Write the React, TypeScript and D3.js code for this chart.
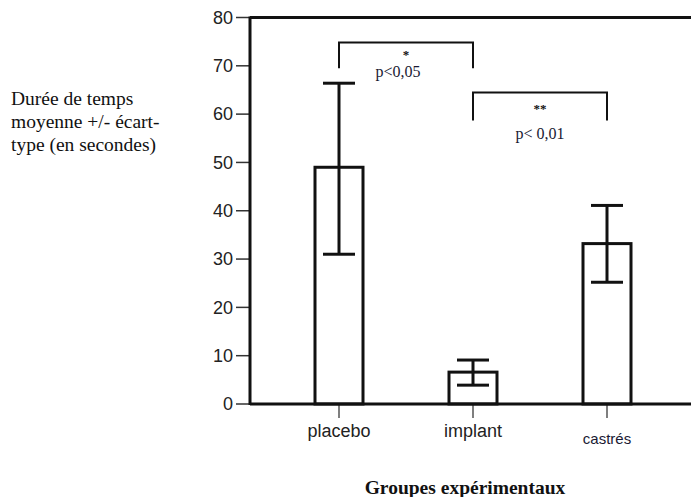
import React from "react";
import * as d3 from "d3";

// groupes et valeurs
const groupes = ["placebo", "implant", "castrés"];
const moyennes = [49, 6.6, 33.2];
const erreurHaut = [66.4, 9.1, 41.1];
const erreurBas = [31, 3.9, 25.2];
const yTicksValues = [0, 10, 20, 30, 40, 50, 60, 70, 80];

// comparaisons (crochets)
const compDe = ["placebo", "implant"];
const compA = ["implant", "castrés"];
const compHaut = [74.8, 64.5];
const compBas = [69.5, 58.7];
const compEtoiles = ["*", "**"];
const compP = ["p<0,05", "p< 0,01"];

export default function App() {
  const width = 691,
    height = 497;
  const axisX = 250;
  const y0 = 404,
    yTop = 17.5;
  const barW = 48;

  const xScale = d3.scalePoint<string>().domain(groupes).range([339, 607]);
  const yScale = d3.scaleLinear().domain([0, 80]).range([y0, yTop]);

  const serif = "'Liberation Serif', 'Times New Roman', serif";
  const sans = "'Liberation Sans', Arial, sans-serif";

  return (
    <svg
      width={width}
      height={height}
      style={{ position: "absolute", left: 0, top: 0, background: "#fff" }}
    >
      {/* titre axe y */}
      <g fontFamily={serif} fontSize={19.5} fill="#111">
        <text x={11} y={105}>Durée de temps</text>
        <text x={11} y={128}>moyenne +/- écart-</text>
        <text x={11} y={151}>type (en secondes)</text>
      </g>

      {/* ticks y */}
      <g>
        {yTicksValues.map((t) => (
          <g key={t}>
            <line
              x1={236}
              x2={axisX}
              y1={yScale(t)}
              y2={yScale(t)}
              stroke="#333"
              strokeWidth={1.5}
            />
            <text
              x={233}
              y={yScale(t)}
              dy="0.35em"
              textAnchor="end"
              fontFamily={sans}
              fontSize={18}
              fill="#222"
            >
              {t}
            </text>
          </g>
        ))}
      </g>

      {/* ticks x */}
      {groupes.map((g, i) => (
        <g key={g}>
          <line
            x1={xScale(g)}
            x2={xScale(g)}
            y1={y0}
            y2={418}
            stroke="#555"
            strokeWidth={1.5}
          />
          <text
            x={xScale(g)}
            y={i === 2 ? 444 : 437}
            textAnchor="middle"
            fontFamily={sans}
            fontSize={i === 2 ? 15 : 18}
            fill={i === 2 ? "#1a1a33" : "#222"}
          >
            {g}
          </text>
        </g>
      ))}

      {/* barres */}
      {groupes.map((g, i) => (
        <rect
          key={g}
          x={(xScale(g) as number) - barW / 2}
          y={yScale(moyennes[i])}
          width={barW}
          height={y0 - yScale(moyennes[i])}
          fill="#fff"
          stroke="#111"
          strokeWidth={3}
        />
      ))}

      {/* barres d'erreur */}
      {groupes.map((g, i) => {
        const cx = xScale(g) as number;
        return (
          <g key={g} stroke="#111" strokeWidth={3}>
            <line x1={cx} x2={cx} y1={yScale(erreurHaut[i])} y2={yScale(erreurBas[i])} />
            <line x1={cx - 16} x2={cx + 16} y1={yScale(erreurHaut[i])} y2={yScale(erreurHaut[i])} />
            <line x1={cx - 16} x2={cx + 16} y1={yScale(erreurBas[i])} y2={yScale(erreurBas[i])} />
          </g>
        );
      })}

      {/* axes */}
      <line x1={axisX} x2={axisX} y1={yTop - 1} y2={y0 + 1} stroke="#111" strokeWidth={3} />
      <line x1={axisX} x2={width} y1={y0} y2={y0} stroke="#111" strokeWidth={3} />
      <line x1={axisX} x2={width} y1={yTop} y2={yTop} stroke="#111" strokeWidth={3} />

      {/* crochets de comparaison */}
      {compDe.map((d, i) => {
        const xa = xScale(d) as number;
        const xb = xScale(compA[i]) as number;
        const yh = yScale(compHaut[i]);
        const yb = yScale(compBas[i]);
        const mid = (xa + xb) / 2;
        return (
          <g key={i}>
            <path
              d={`M${xa},${yb}V${yh}H${xb}V${yb}`}
              fill="none"
              stroke="#111"
              strokeWidth={2}
            />
            <text
              x={mid}
              y={i === 0 ? yh + 16 : yh + 21}
              textAnchor="middle"
              fontFamily={serif}
              fontSize={13}
              fontWeight="bold"
              fill="#111"
            >
              {compEtoiles[i]}
            </text>
            <text
              x={i === 0 ? mid - 8 : mid}
              y={i === 0 ? yh + 34 : yh + 47}
              textAnchor="middle"
              fontFamily={serif}
              fontSize={16}
              fill="#1a1a33"
            >
              {compP[i]}
            </text>
          </g>
        );
      })}

      {/* titre axe x */}
      <text
        x={465}
        y={494}
        textAnchor="middle"
        fontFamily={serif}
        fontSize={19.5}
        fontWeight="bold"
        fill="#111"
      >
        Groupes expérimentaux
      </text>
    </svg>
  );
}
